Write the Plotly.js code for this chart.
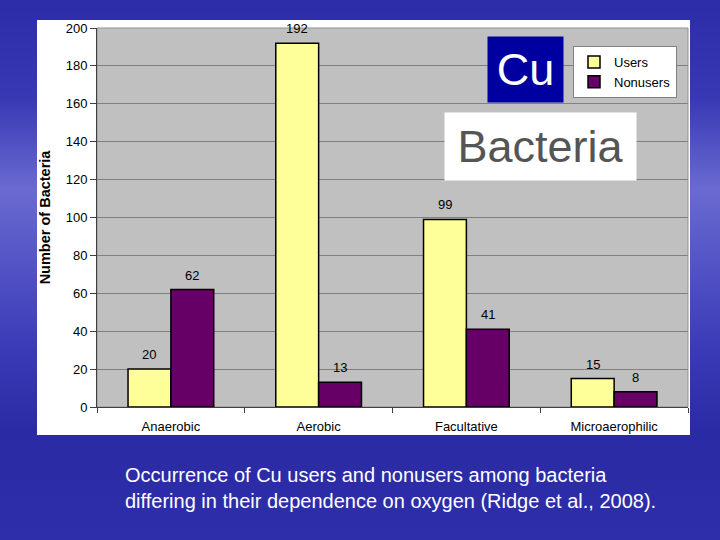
<!DOCTYPE html>
<html>
<head>
<meta charset="utf-8">
<script src="https://cdn.plot.ly/plotly-3.0.1.min.js"></script>
<style>
  html, body { margin: 0; padding: 0; }
  body {
    width: 720px; height: 540px; overflow: hidden;
    background: linear-gradient(to bottom, #2c2ca8 0%, #3838b4 18%, #6a6ad0 35%, #5252c4 50%, #3a3ab6 65%, #2a2aa4 80%, #2e2eaa 100%);
  }
  #chart { width: 720px; height: 540px; }
</style>
</head>
<body>
<div id="chart"></div>
<script>
const categories = ['Anaerobic', 'Aerobic', 'Facultative', 'Microaerophilic'];
const users = [20, 192, 99, 15];
const nonusers = [62, 13, 41, 8];
const yTicks = [0, 20, 40, 60, 80, 100, 120, 140, 160, 180, 200];

const font = 'Liberation Sans, Arial, sans-serif';

// plot area in pixels: x 97..688, y 28..407
const W = 591, H = 379;
function px(x) { return (x - 97) / W }
function py(y) { return (407 - y) / H }

const traceUsers = {
  x: categories, y: users, name: 'Users', type: 'bar',
  marker: { color: '#ffff99', line: { color: '#000000', width: 1.5 } },
  hoverinfo: 'none'
};
const traceNon = {
  x: categories, y: nonusers, name: 'Nonusers', type: 'bar',
  marker: { color: '#660066', line: { color: '#000000', width: 1.5 } },
  hoverinfo: 'none'
};

// value labels above the bars
let labels = [];
const half = 0.145;
for (let i = 0; i < categories.length; i++) {
  labels.push({ x: i - half, y: users[i], xref: 'x', yref: 'y', text: String(users[i]),
    showarrow: false, xanchor: 'center', yanchor: 'bottom', yshift: 5, font: { family: font, size: 13, color: '#000' } });
  labels.push({ x: i + half, y: nonusers[i], xref: 'x', yref: 'y', text: String(nonusers[i]),
    showarrow: false, xanchor: 'center', yanchor: 'bottom', yshift: 5, font: { family: font, size: 13, color: '#000' } });
}

const boxes = [
  // white chart frame
  { type: 'rect', xref: 'paper', yref: 'paper', layer: 'below',
    x0: px(37), x1: px(690), y0: py(435), y1: py(20), fillcolor: '#ffffff', line: { width: 0 } },
  // gray plot area
  { type: 'rect', xref: 'paper', yref: 'paper', layer: 'below',
    x0: 0, x1: 1, y0: 0, y1: 1, fillcolor: '#c0c0c0', line: { color: '#909090', width: 1 } }
];

const extras = [
  { xref: 'paper', yref: 'paper', x: px(525.5), y: py(69.5), xanchor: 'center', yanchor: 'middle',
    text: 'Cu', showarrow: false,
    width: 75, height: 65, bgcolor: '#0000a0', borderpad: 0,
    font: { family: font, size: 45, color: '#ffffff' } },
  { xref: 'paper', yref: 'paper', x: px(540.5), y: py(146.5), xanchor: 'center', yanchor: 'middle',
    text: 'Bacteria', showarrow: false,
    width: 191, height: 67, bgcolor: '#ffffff', borderpad: 0,
    font: { family: font, size: 45, color: '#555555' } },
  { xref: 'paper', yref: 'paper', x: px(123), y: py(462), xanchor: 'left', yanchor: 'top', align: 'left',
    text: 'Occurrence of Cu users and nonusers among bacteria<br>differing in their dependence on oxygen (Ridge et al., 2008).',
    showarrow: false, font: { family: font, size: 20, color: '#ffffff' } }
];

const layout = {
  width: 720, height: 540,
  margin: { l: 97, r: 32, t: 28, b: 133 },
  paper_bgcolor: 'rgba(0,0,0,0)',
  plot_bgcolor: 'rgba(0,0,0,0)',
  font: { family: font, size: 12.5, color: '#000' },
  barmode: 'group',
  bargap: 0.42,
  bargroupgap: 0,
  showlegend: true,
  legend: {
    x: px(677), y: py(46), xanchor: 'right', yanchor: 'top',
    bgcolor: '#ffffff', bordercolor: '#808080', borderwidth: 1,
    font: { family: font, size: 13, color: '#000' },
    itemwidth: 30, tracegroupgap: 0
  },
  xaxis: {
    type: 'category', showgrid: false, zeroline: false,
    showline: true, linecolor: '#404040', linewidth: 1,
    ticks: 'outside', tickson: 'boundaries', ticklen: 5, tickcolor: '#404040',
    ticklabelstandoff: 7,
    tickfont: { family: font, size: 13, color: '#000' }
  },
  yaxis: {
    range: [0, 200], tickvals: yTicks, ticktext: yTicks.map(String),
    showgrid: true, gridcolor: '#808080', gridwidth: 1, zeroline: false,
    showline: true, linecolor: '#404040', linewidth: 1,
    ticks: 'outside', ticklen: 6, tickcolor: '#404040',
    tickfont: { family: font, size: 13, color: '#000' },
    title: { text: '<b>Number of Bacteria</b>', standoff: 11, font: { family: font, size: 14.5, color: '#000' } }
  },
  shapes: boxes,
  annotations: labels.concat(extras)
};

Plotly.newPlot('chart', [traceUsers, traceNon], layout, { staticPlot: true });
</script>
</body>
</html>
